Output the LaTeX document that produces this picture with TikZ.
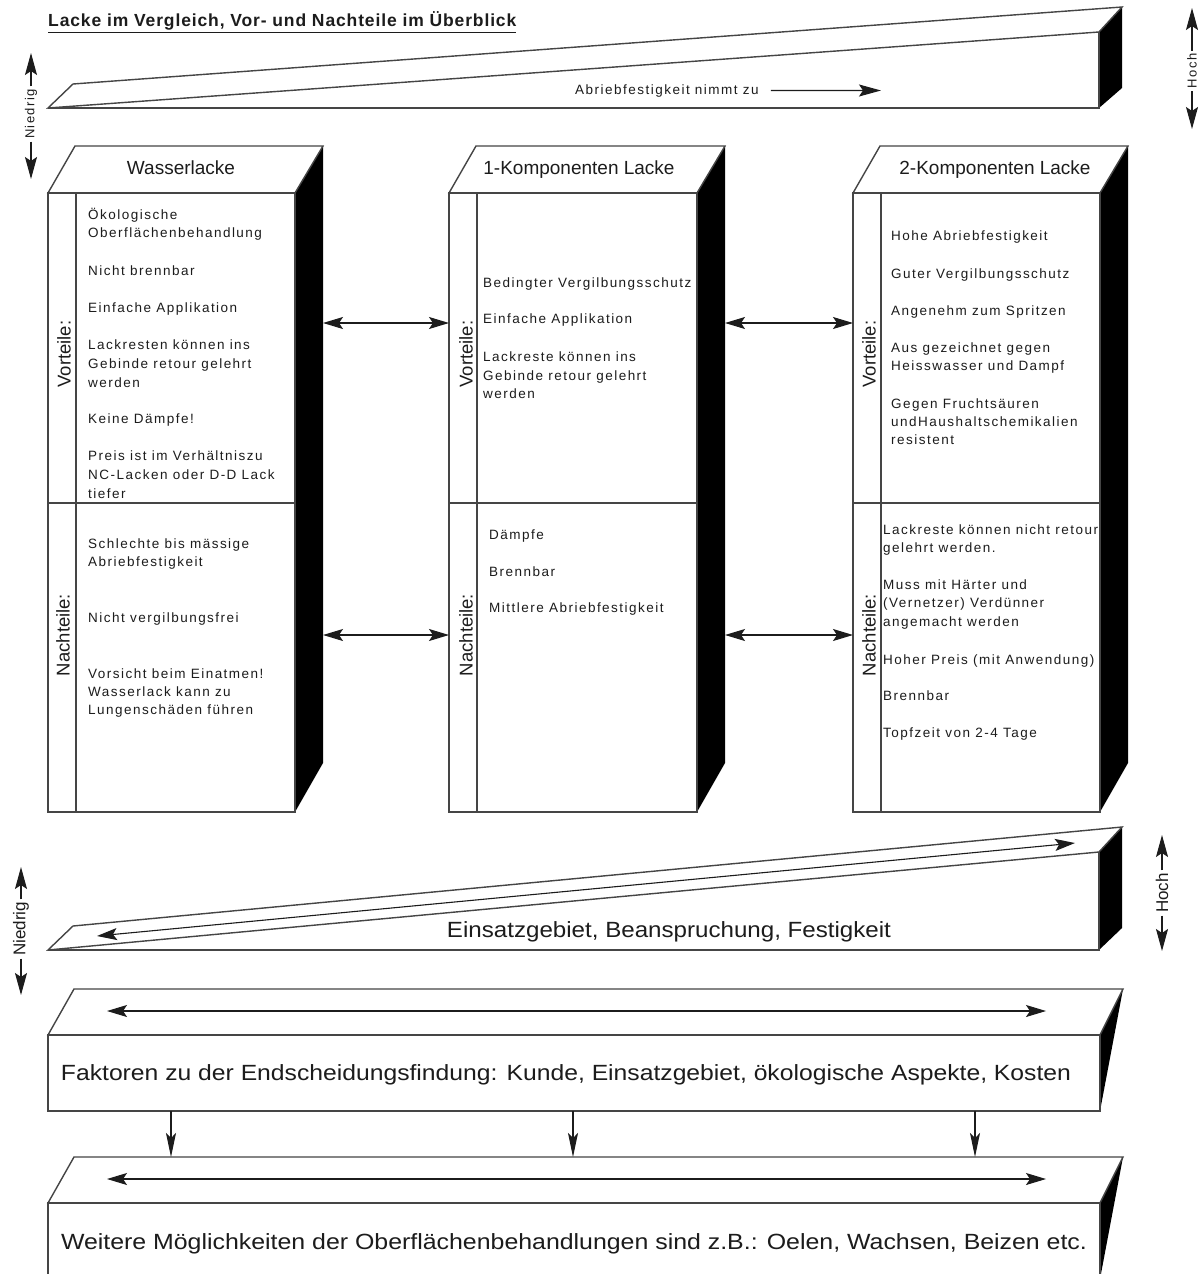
\documentclass[tikz,border=0pt]{standalone}
\usepackage{fontspec}
\setmainfont{Liberation Sans}
\newfontfamily\spfont[LetterSpace=11]{Liberation Sans}
\newfontfamily\ttlfont[LetterSpace=5]{Liberation Sans}
\usetikzlibrary{arrows.meta}
\definecolor{lc}{HTML}{454545}
\definecolor{tc}{HTML}{1C1C1C}
\newcommand\lackcol[2]{%
  \fill[black] (#2,193) -- (#2+28,146) -- (#2+28,763) -- (#2,812) -- cycle;
  \draw[frame] (#1,193) -- (#1+27,146) -- (#2+28,146) -- (#2,193) -- cycle;
  \draw[frame] (#1,193) rectangle (#2,812);
  \draw[frame] (#1+28,193) -- (#1+28,812);
  \draw[frame] (#1,503) -- (#2,503);
}
\newcommand\colitems[3]{\foreach \yy/\tx [count=\i] in {#3} {\node[body] (#1\i) at (#2,\yy) {\tx};}}
\begin{document}
\begin{tikzpicture}[x=1pt,y=-1pt,
  frame/.style={draw=lc, line width=1.4pt, line join=miter},
  body/.style={font=\spfont\fontsize{13.5}{16}\selectfont, text=tc, inner sep=0pt, anchor=base west},
  coltitle/.style={font=\fontsize{19}{22}\selectfont, text=tc, inner sep=0pt, anchor=base},
  sidelabel/.style={font=\fontsize{18.5}{21}\selectfont, text=tc, rotate=90, inner sep=0pt},
  smalllabel/.style={font=\spfont\fontsize{13}{15}\selectfont, text=tc, rotate=90, inner sep=2.5pt, fill=white},
  biglabel/.style={font=\fontsize{17}{19}\selectfont, text=tc, rotate=90, inner sep=2.5pt, fill=white},
  arr/.style={-{Stealth[length=20pt,width=12pt,inset=4pt]}, line width=1.1pt, draw=tc},
  darr/.style={{Stealth[length=20pt,width=12pt,inset=4pt]}-{Stealth[length=20pt,width=12pt,inset=4pt]}, line width=1.1pt, draw=tc},
  labarr/.style={-{Stealth[length=22pt,width=12pt,inset=4pt]}, line width=1.1pt, draw=tc},
  downarr/.style={-{Stealth[length=24pt,width=10pt,inset=5pt]}, line width=1.1pt, draw=tc},
  bigtext/.style={font=\fontsize{22}{26}\selectfont, text=tc, inner sep=0pt, anchor=base}
]
\useasboundingbox (0,0) rectangle (1202,1274);
\clip (0,0) rectangle (1202,1274);
\fill[white] (0,0) rectangle (1202,1274);

% title
\node[anchor=base west, inner sep=0pt, text=tc, font=\ttlfont\bfseries\fontsize{17.5}{20}\selectfont] (title) at (48,27) {\underline{Lacke im Vergleich, Vor- und Nachteile im Überblick}};

% top wedge
\coordinate (tw1) at (48,108); \coordinate (tw2) at (1099,32); \coordinate (tw3) at (1122,7);
\coordinate (tw4) at (73,84); \coordinate (tw5) at (1099,108); \coordinate (tw6) at (1122,88);
\fill[black] (tw2) -- (tw3) -- (tw6) -- (tw5) -- cycle;
\draw[frame] (tw1) -- (tw2) -- (tw3) -- (tw4) -- cycle;
\draw[frame] (tw1) -- (tw5) -- (tw2);
\node[body] (abr) at (575,94) {Abriebfestigkeit nimmt zu};
\coordinate (abrEnd) at (881,90.5);
\draw[labarr] ([xshift=12pt]abr.east) -- (abrEnd);

% side labels top
\coordinate (n1t) at (31,53); \coordinate (n1b) at (31,179);
\node[smalllabel] (nied1) at (31,114) {Niedrig};
\draw[labarr] (nied1.east) -- (n1t);
\draw[labarr] (nied1.west) -- (n1b);
\coordinate (h1t) at (1192,8); \coordinate (h1b) at (1192,129);
\node[smalllabel] (hoch1) at (1192,71) {Hoch};
\draw[labarr] (hoch1.east) -- (h1t);
\draw[labarr] (hoch1.west) -- (h1b);

% columns
\lackcol{48}{295}
\lackcol{449}{697}
\lackcol{853}{1100}
\node[coltitle] (t1) at (181,174) {Wasserlacke};
\node[coltitle] (t2) at (579,174) {1-Komponenten Lacke};
\node[coltitle] (t3) at (995,174) {2-Komponenten Lacke};
\node[sidelabel] (v1) at (64,354) {Vorteile:};
\node[sidelabel] (v2) at (466,354) {Vorteile:};
\node[sidelabel] (v3) at (869,354) {Vorteile:};
\node[sidelabel] (na1) at (63,635) {Nachteile:};
\node[sidelabel] (na2) at (466,635) {Nachteile:};
\node[sidelabel] (na3) at (869,635) {Nachteile:};

\colitems{aV}{88}{219/{Ökologische}, 237/{Oberflächenbehandlung}, 275/{Nicht brennbar}, 312/{Einfache Applikation}, 349/{Lackresten können ins}, 368/{Gebinde retour gelehrt}, 387/{werden}, 423/{Keine Dämpfe!}, 460/{Preis ist im Verhältniszu}, 479/{NC-Lacken oder D-D Lack}, 498/{tiefer}}
\colitems{aN}{88}{548/{Schlechte bis mässige}, 566/{Abriebfestigkeit}, 622/{Nicht vergilbungsfrei}, 678/{Vorsicht beim Einatmen!}, 696/{Wasserlack kann zu}, 714/{Lungenschäden führen}}
\colitems{bV}{483}{287/{Bedingter Vergilbungsschutz}, 323/{Einfache Applikation}, 361/{Lackreste können ins}, 380/{Gebinde retour gelehrt}, 398/{werden}}
\colitems{bN}{489}{539/{Dämpfe}, 576/{Brennbar}, 612/{Mittlere Abriebfestigkeit}}
\colitems{cV}{891}{240/{Hohe Abriebfestigkeit}, 278/{Guter Vergilbungsschutz}, 315/{Angenehm zum Spritzen}, 352/{Aus gezeichnet gegen}, 370/{Heisswasser und Dampf}, 408/{Gegen Fruchtsäuren}, 426/{undHaushaltschemikalien}, 444/{resistent}}
\colitems{cN}{883}{534/{Lackreste können nicht retour}, 552/{gelehrt werden.}, 589/{Muss mit Härter und}, 607/{(Vernetzer) Verdünner}, 626/{angemacht werden}, 664/{Hoher Preis (mit Anwendung)}, 700/{Brennbar}, 737/{Topfzeit von 2-4 Tage}}

% arrows between columns
\coordinate (c1v) at (323,323); \coordinate (c2vl) at (449,323);
\coordinate (c2v) at (725,323); \coordinate (c3vl) at (853,323);
\coordinate (c1n) at (323,635); \coordinate (c2nl) at (449,635);
\coordinate (c2n) at (725,635); \coordinate (c3nl) at (853,635);
\draw[darr] (c1v) -- (c2vl);
\draw[darr] (c2v) -- (c3vl);
\draw[darr] (c1n) -- (c2nl);
\draw[darr] (c2n) -- (c3nl);

% bottom wedge
\coordinate (bw1) at (48,950); \coordinate (bw2) at (1099,852); \coordinate (bw3) at (1122,827);
\coordinate (bw4) at (73,926); \coordinate (bw5) at (1099,950); \coordinate (bw6) at (1122,928);
\fill[black] (bw2) -- (bw3) -- (bw6) -- (bw5) -- cycle;
\draw[frame] (bw1) -- (bw2) -- (bw3) -- (bw4) -- cycle;
\draw[frame] (bw1) -- (bw5) -- (bw2);
\coordinate (bwa) at (97,936); \coordinate (bwb) at (1075,843);
\draw[darr] (bwa) -- (bwb);
\node[bigtext] (eins) at (669,937) {\resizebox{444pt}{\height}{Einsatzgebiet, Beanspruchung, Festigkeit}};

% side labels bottom
\coordinate (n2t) at (21,867); \coordinate (n2b) at (21,995);
\node[biglabel] (nied2) at (21,929) {Niedrig};
\draw[labarr] (nied2.east) -- (n2t);
\draw[labarr] (nied2.west) -- (n2b);
\coordinate (h2t) at (1162,835); \coordinate (h2b) at (1162,951);
\node[biglabel] (hoch2) at (1162,893) {Hoch};
\draw[labarr] (hoch2.east) -- (h2t);
\draw[labarr] (hoch2.west) -- (h2b);

% Faktoren box
\coordinate (f1) at (48,1035); \coordinate (f2) at (74,989); \coordinate (f3) at (1123,989);
\coordinate (f4) at (1100,1035); \coordinate (f5) at (1100,1111); \coordinate (f6) at (48,1111);
\fill[black] (f4) -- (f3) -- (f5) -- cycle;
\draw[frame] (f1) -- (f2) -- (f3) -- (f4) -- cycle;
\draw[frame] (f1) rectangle (f5);
\coordinate (fa) at (107,1011); \coordinate (fb) at (1046,1011);
\draw[darr] (fa) -- (fb);
\node[bigtext] (fak) at (566,1080) {\resizebox{1010pt}{\height}{Faktoren zu der Endscheidungsfindung: Kunde, Einsatzgebiet, ökologische Aspekte, Kosten}};

% Weitere box
\coordinate (w1) at (48,1203); \coordinate (w2) at (74,1157); \coordinate (w3) at (1123,1157);
\coordinate (w4) at (1100,1203); \coordinate (w5) at (1100,1290); \coordinate (w6) at (1100,1279);
\fill[black] (w4) -- (w3) -- (w6) -- cycle;
\draw[frame] (w1) -- (w2) -- (w3) -- (w4) -- cycle;
\draw[frame] (w1) rectangle (w5);
\coordinate (wa) at (107,1179); \coordinate (wb) at (1046,1179);
\draw[darr] (wa) -- (wb);
\node[bigtext] (wei) at (574,1249) {\resizebox{1026pt}{\height}{Weitere Möglichkeiten der Oberflächenbehandlungen sind z.B.: Oelen, Wachsen, Beizen etc.}};

% down arrows
\foreach \xx [count=\k] in {171,573,975} {
  \coordinate (ds\k) at (\xx,1111);
  \coordinate (de\k) at (\xx,1157);
  \draw[downarr] (ds\k) -- (de\k);
}
\end{tikzpicture}
\end{document}
